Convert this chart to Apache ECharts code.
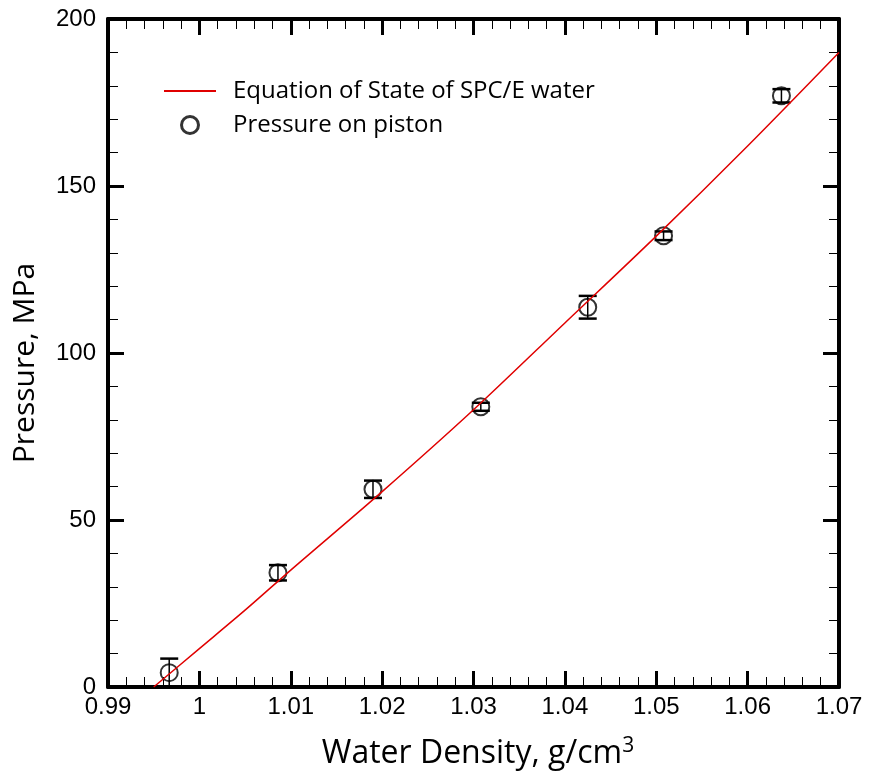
<!DOCTYPE html>
<html>
<head>
<meta charset="utf-8">
<title>Pressure vs water density</title>
<script src="https://cdn.jsdelivr.net/npm/echarts@6/dist/echarts.min.js"></script>
<style>
  html, body { margin: 0; padding: 0; background: #fff; }
  #chart { width: 869px; height: 776px; }
</style>
</head>
<body>
<div id="chart"></div>
<script>
// Equation of state curve for SPC/E water (density in g/cm3, pressure in MPa)
const eosDensity  = [0.995, 1.000, 1.005, 1.010, 1.020, 1.030, 1.040, 1.050, 1.060, 1.070];
const eosPressure = [0, 11.5, 23, 35, 58.5, 83, 109, 135, 162, 190];

// Pressure measured on the piston, with error half-widths
const pistonDensity  = [0.9967, 1.0086, 1.0190, 1.0308, 1.0425, 1.0508, 1.0637];
const pistonPressure = [4.3, 34.2, 59.2, 83.9, 113.7, 135.1, 177.0];
const pistonError    = [4.2, 2.3, 2.6, 1.2, 3.4, 1.3, 2.0];

// Axis ticks
const xTickLabels = ['0.99', '1', '1.01', '1.02', '1.03', '1.04', '1.05', '1.06', '1.07'];
const yTickLabels = ['0', '50', '100', '150', '200'];

const X_MIN = 0.99, X_MAX = 1.07, X_STEP = 0.01;
const Y_MIN = 0, Y_MAX = 200, Y_STEP = 50;

const EOS_NAME = 'Equation of State of SPC/E water';
const PISTON_NAME = 'Pressure on piston';

const eosData = eosDensity.map((d, i) => [d, eosPressure[i]]);
const pistonData = pistonDensity.map((d, i) => [d, pistonPressure[i]]);
const errorData = pistonDensity.map((d, i) => [d, pistonPressure[i] - pistonError[i], pistonPressure[i] + pistonError[i]]);

const frame = { show: true, onZero: false, lineStyle: { color: '#000', width: 4 } };
const majorTick = { show: true, inside: true, length: 16, lineStyle: { color: '#000', width: 3 } };
const minorTick = { show: true, splitNumber: 5, length: 10, lineStyle: { color: '#000', width: 1 } };
const tickFont = { color: '#000', fontFamily: 'Liberation Sans, Arial, sans-serif', fontSize: 24 };
const titleFont = { color: '#000', fontFamily: 'Open Sans, sans-serif', fontSize: 32 };

function xLabel(v) { return xTickLabels[Math.round((v - X_MIN) / X_STEP)] ?? ''; }
function yLabel(v) { return yTickLabels[Math.round((v - Y_MIN) / Y_STEP)] ?? ''; }

const baseX = { type: 'value', min: X_MIN, max: X_MAX, interval: X_STEP, splitLine: { show: false },
  axisLine: frame, axisTick: majorTick, minorTick: minorTick };
const baseY = { type: 'value', min: Y_MIN, max: Y_MAX, interval: Y_STEP, splitLine: { show: false },
  axisLine: frame, axisTick: majorTick, minorTick: minorTick };

const chart = echarts.init(document.getElementById('chart'), null, { renderer: 'canvas' });

chart.setOption({
  animation: false,
  backgroundColor: '#fff',
  grid: { left: 108, right: 30, top: 19, bottom: 89, containLabel: false },
  legend: {
    orient: 'vertical',
    left: 163,
    top: 79,
    padding: 0,
    itemWidth: 52,
    itemHeight: 17,
    itemGap: 10,
    textStyle: { color: '#000', fontFamily: 'Open Sans, sans-serif', fontSize: 24, lineHeight: 24, padding: [0, 0, 0, 12] },
    data: [
      { name: EOS_NAME, itemStyle: { color: 'rgba(0,0,0,0)', borderColor: 'rgba(0,0,0,0)', borderWidth: 0 } },
      { name: PISTON_NAME, itemStyle: { color: 'rgba(0,0,0,0)', borderColor: '#000', borderWidth: 3 } }
    ]
  },
  xAxis: [
    Object.assign({}, baseX, {
      position: 'bottom',
      name: '{t|Water Density, g/cm}{s|3}',
      nameLocation: 'middle',
      nameGap: 49,
      nameTextStyle: Object.assign({}, titleFont, {
        padding: [0, 0, 0, 9],
        rich: {
          t: { fontFamily: 'Open Sans, sans-serif', fontSize: 32, color: '#000' },
          s: { fontFamily: 'Open Sans, sans-serif', fontSize: 21, color: '#000', padding: [0, 0, 14, 0] }
        }
      }),
      axisLabel: Object.assign({}, tickFont, { margin: 8, formatter: xLabel, showMinLabel: true, showMaxLabel: true })
    }),
    Object.assign({}, baseX, { position: 'top', axisLabel: { show: false } })
  ],
  yAxis: [
    Object.assign({}, baseY, {
      position: 'left',
      name: 'Pressure, MPa',
      nameLocation: 'middle',
      nameGap: 68,
      nameTextStyle: Object.assign({}, titleFont, { fontSize: 30, padding: [0, 20, 0, 0] }),
      axisLabel: Object.assign({}, tickFont, { margin: 12, formatter: yLabel, showMinLabel: true, showMaxLabel: true })
    }),
    Object.assign({}, baseY, { position: 'right', axisLabel: { show: false } })
  ],
  series: [
    {
      name: PISTON_NAME,
      type: 'scatter',
      xAxisIndex: 0,
      yAxisIndex: 0,
      symbol: 'circle',
      symbolSize: 17,
      itemStyle: { color: 'rgba(0,0,0,0)', borderColor: '#000', borderWidth: 2 },
      data: pistonData,
      z: 3
    },
    {
      name: 'error',
      type: 'custom',
      xAxisIndex: 0,
      yAxisIndex: 0,
      encode: { x: 0, y: [1, 2] },
      data: errorData,
      renderItem: function (params, api) {
        const x = api.value(0);
        const lo = api.coord([x, api.value(1)]);
        const hi = api.coord([x, api.value(2)]);
        const half = 9;
        const stroke = { stroke: '#000', lineWidth: 1.5 };
        const cap = { stroke: '#000', lineWidth: 2.5 };
        return {
          type: 'group',
          children: [
            { type: 'line', shape: { x1: lo[0], y1: lo[1], x2: hi[0], y2: hi[1] }, style: stroke },
            { type: 'line', shape: { x1: hi[0] - half, y1: hi[1], x2: hi[0] + half, y2: hi[1] }, style: cap },
            { type: 'line', shape: { x1: lo[0] - half, y1: lo[1], x2: lo[0] + half, y2: lo[1] }, style: cap }
          ]
        };
      },
      z: 3
    },
    {
      name: EOS_NAME,
      type: 'line',
      xAxisIndex: 0,
      yAxisIndex: 0,
      symbol: 'none',
      smooth: 0.3,
      lineStyle: { color: '#e00000', width: 1.5 },
      itemStyle: { color: '#e00000' },
      data: eosData,
      z: 4
    }
  ]
});
</script>
</body>
</html>
